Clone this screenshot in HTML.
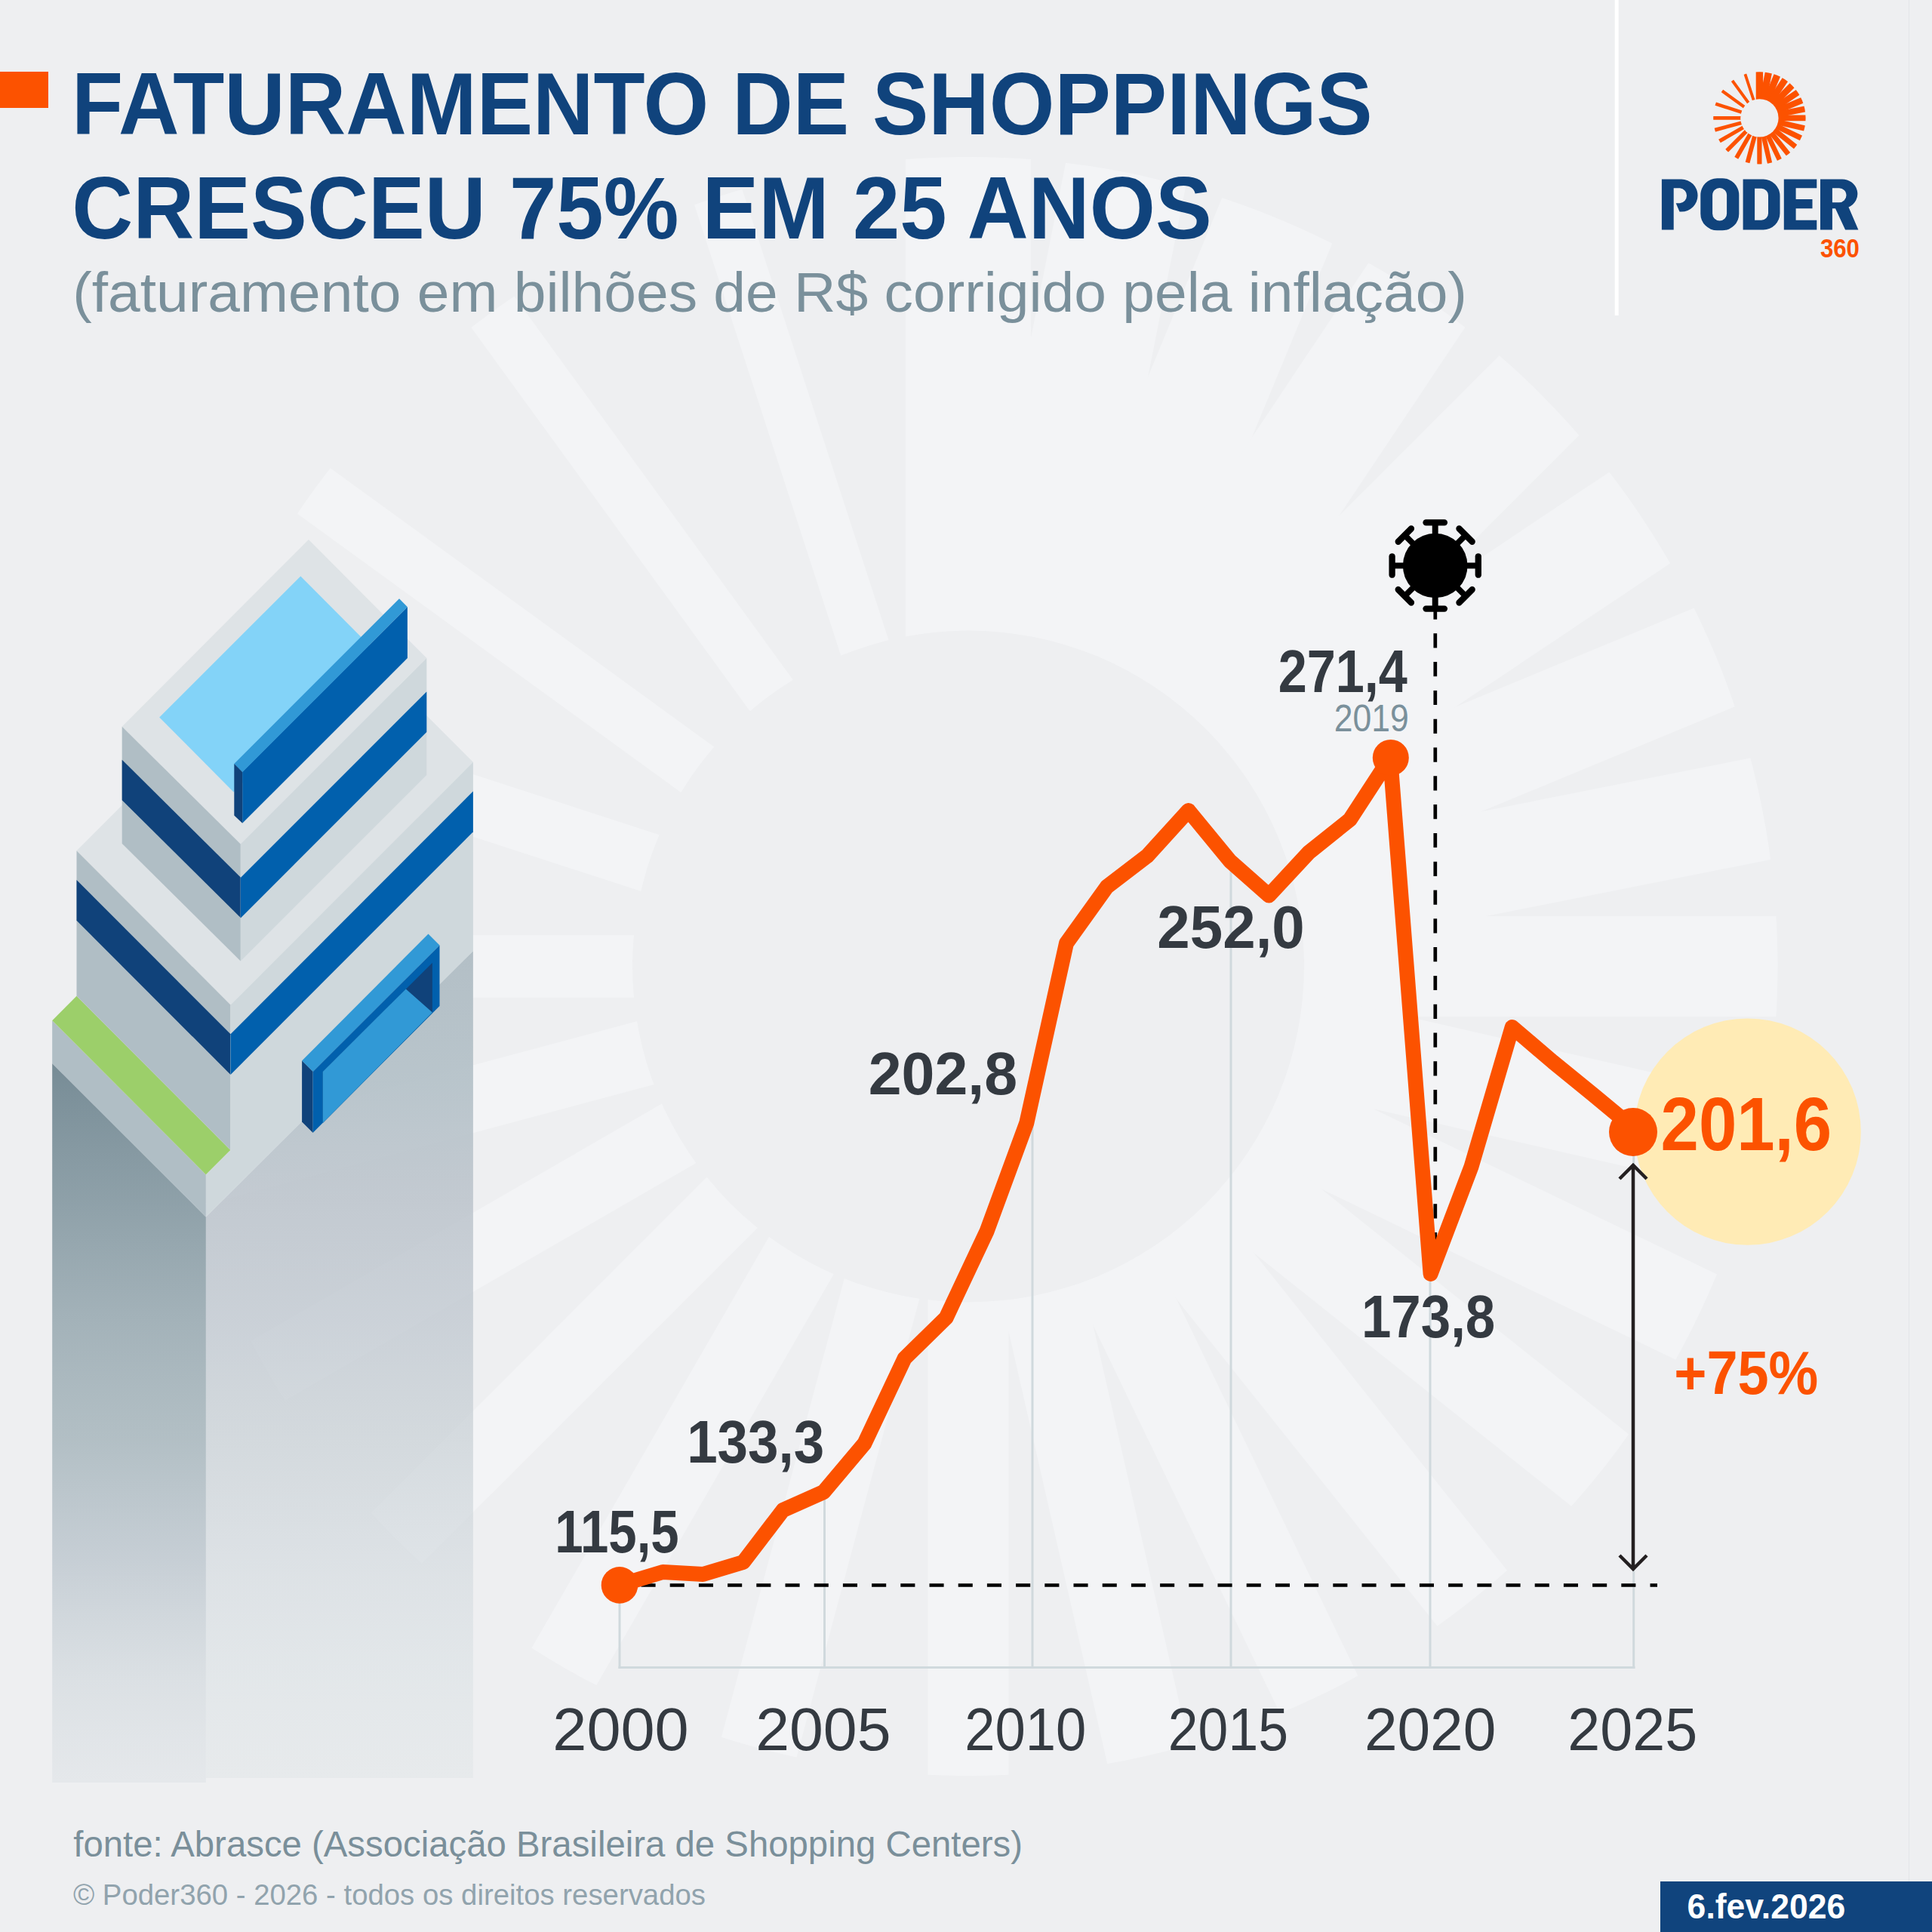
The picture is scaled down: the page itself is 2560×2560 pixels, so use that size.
<!DOCTYPE html><html><head><meta charset="utf-8"><title>Faturamento de shoppings</title><style>html,body{margin:0;padding:0;background:#eeeff1;width:2560px;height:2560px;overflow:hidden;font-family:"Liberation Sans",sans-serif}svg{display:block}</style></head><body><svg width="2560" height="2560" viewBox="0 0 2560 2560"><rect width="2560" height="2560" fill="#eeeff1"/>
<defs><mask id="mbg" maskUnits="userSpaceOnUse" x="200.5" y="198.0" width="2165.0" height="2165.0"><circle cx="1283" cy="1280.5" r="1072.5" fill="#fff"/><circle cx="1283" cy="1280.5" r="445" fill="#000"/></mask></defs>
<g mask="url(#mbg)"><polygon points="1366.1,1280.5 1366.1,154.4 1199.9,154.4 1199.9,1280.5" fill="#f3f4f6" /><polygon points="1362.5,1296.3 1582.2,191.8 1423.2,160.2 1203.5,1264.7" fill="#f3f4f6" /><polygon points="1356.0,1310.7 1786.9,270.3 1641.0,209.9 1210.0,1250.3" fill="#f3f4f6" /><polygon points="1346.9,1323.2 1972.6,386.9 1844.7,301.4 1219.1,1237.8" fill="#f3f4f6" /><polygon points="1335.9,1333.4 2132.2,537.1 2026.4,431.3 1230.1,1227.6" fill="#f3f4f6" /><polygon points="1323.4,1341.0 2259.7,715.3 2178.9,594.4 1242.6,1220.0" fill="#f3f4f6" /><polygon points="1310.0,1345.8 2350.4,914.8 2296.4,784.3 1256.0,1215.2" fill="#f3f4f6" /><polygon points="1296.4,1347.8 2400.9,1128.1 2374.1,993.5 1269.6,1213.2" fill="#f3f4f6" /><polygon points="1283.0,1347.0 2409.1,1347.0 2409.1,1214.0 1283.0,1214.0" fill="#f3f4f6" /><polygon points="1268.6,1343.5 2366.5,1594.1 2395.3,1468.1 1297.4,1217.5" fill="#f3f4f6" /><polygon points="1255.7,1337.1 2270.3,1825.7 2324.9,1712.5 1310.3,1223.9" fill="#f3f4f6" /><polygon points="1245.0,1328.2 2125.4,2030.3 2201.5,1935.0 1321.0,1232.8" fill="#f3f4f6" /><polygon points="1236.8,1317.4 1938.9,2197.8 2031.4,2124.1 1329.2,1243.6" fill="#f3f4f6" /><polygon points="1231.4,1305.4 1720.0,2320.0 1823.2,2270.2 1334.6,1255.6" fill="#f3f4f6" /><polygon points="1228.9,1292.8 1479.5,2390.7 1587.7,2366.0 1337.1,1268.2" fill="#f3f4f6" /><polygon points="1229.4,1280.5 1229.4,2406.6 1336.6,2406.6 1336.6,1280.5" fill="#f3f4f6" /><polygon points="1233.2,1267.2 941.7,2354.9 1041.3,2381.6 1332.8,1293.8" fill="#f3f4f6" /><polygon points="1240.1,1255.7 677.1,2231.0 762.8,2280.5 1325.9,1305.3" fill="#f3f4f6" /><polygon points="1249.4,1246.9 453.2,2043.2 520.3,2110.3 1316.6,1314.1" fill="#f3f4f6" /><polygon points="1260.3,1241.2 285.0,1804.2 330.4,1882.9 1305.7,1319.8" fill="#f3f4f6" /><polygon points="1271.8,1238.6 184.0,1530.1 206.5,1613.8 1294.2,1322.4" fill="#f3f4f6" /><polygon points="1283.0,1239.2 156.9,1239.2 156.9,1321.8 1283.0,1321.8" fill="#f3f4f6" /><polygon points="1295.1,1243.1 224.1,895.2 199.9,969.9 1270.9,1317.9" fill="#f3f4f6" /><polygon points="1304.9,1250.3 393.9,588.4 350.0,648.7 1261.1,1310.7" fill="#f3f4f6" /><polygon points="1311.5,1259.8 649.6,348.7 592.6,390.2 1254.5,1301.2" fill="#f3f4f6" /><polygon points="1314.6,1270.2 966.6,199.2 903.4,219.8 1251.4,1290.8" fill="#f3f4f6" /></g>
<rect x="2529" y="0" width="1" height="2493" fill="#e3e5e8"/>
<rect x="2139.7" y="0" width="5" height="418" fill="#ffffff"/>
<rect x="0" y="95" width="64" height="48" fill="#fc5200"/>
<g><polygon points="423.0,805.7 626.9,1009.8 305.5,1331.4 101.5,1127.3" fill="#dee3e6" />
<defs><linearGradient id="gl" x1="0" y1="1409" x2="0" y2="2362" gradientUnits="userSpaceOnUse"><stop offset="0.0" stop-color="#778c96" stop-opacity="1.0"/><stop offset="0.191" stop-color="#8498a1" stop-opacity="0.905"/><stop offset="0.358" stop-color="#93a5ad" stop-opacity="0.821"/><stop offset="0.524" stop-color="#9daeb5" stop-opacity="0.738"/><stop offset="0.689" stop-color="#b1bdc6" stop-opacity="0.655"/><stop offset="0.856" stop-color="#cdd5da" stop-opacity="0.572"/><stop offset="1.0" stop-color="#dce1e5" stop-opacity="0.5"/></linearGradient><linearGradient id="gr" x1="0" y1="1260" x2="0" y2="2356" gradientUnits="userSpaceOnUse"><stop offset="0.0" stop-color="#b3bfc6" stop-opacity="1.0"/><stop offset="0.158" stop-color="#b4c1c8" stop-opacity="0.921"/><stop offset="0.302" stop-color="#bbc3cb" stop-opacity="0.849"/><stop offset="0.447" stop-color="#c0c8d0" stop-opacity="0.776"/><stop offset="0.591" stop-color="#c8d0d5" stop-opacity="0.704"/><stop offset="0.735" stop-color="#d2d9de" stop-opacity="0.632"/><stop offset="0.88" stop-color="#dae1e4" stop-opacity="0.56"/><stop offset="1.0" stop-color="#e0e5e7" stop-opacity="0.5"/></linearGradient></defs>
<polygon points="69.2,1409.0 272.9,1612.4 272.9,2362.0 69.2,2362.0" fill="url(#gl)" />
<polygon points="272.9,1612.4 626.9,1259.9 626.9,2356.0 272.9,2356.0" fill="url(#gr)" />
<polygon points="69.2,1352.2 272.9,1556.5 272.9,1612.4 69.2,1409.0" fill="#b0bec5" />
<polygon points="69.2,1352.2 101.5,1319.8 305.5,1523.9 272.9,1556.5" fill="#9ccf6a" />
<polygon points="101.5,1127.3 305.5,1331.4 305.5,1523.9 101.5,1319.8" fill="#b0bec5" />
<polygon points="101.5,1166.1 305.5,1370.2 305.5,1423.9 101.5,1219.8" fill="#10427a" />
<polygon points="305.5,1331.4 626.9,1009.8 626.9,1259.9 272.9,1612.4 272.9,1556.5 305.5,1523.9" fill="#cfd8dc" />
<polygon points="305.5,1370.2 626.9,1048.6 626.9,1102.3 305.5,1423.9" fill="#0160ad" />
<polygon points="400.1,1405.4 567.5,1237.5 582.5,1252.5 414.6,1419.9" fill="#3199d6" />
<polygon points="400.1,1405.4 414.6,1419.9 414.6,1501.0 400.1,1486.5" fill="#10427a" />
<polygon points="414.6,1419.9 582.5,1252.5 582.5,1332.9 414.6,1501.0" fill="#0160ad" />
<polygon points="427.7,1419.9 572.9,1275.7 572.9,1341.6 427.7,1488.0" fill="#10427a" />
<polygon points="427.7,1419.9 537.8,1310.4 572.9,1341.6 427.7,1488.0" fill="#3199d6" />
<polygon points="408.9,714.9 565.3,872.0 318.8,1118.5 161.7,962.7" fill="#dee3e6" />
<polygon points="161.7,962.7 318.8,1118.5 318.8,1273.5 161.7,1117.7" fill="#b0bec5" />
<polygon points="161.7,1006.7 318.8,1162.5 318.8,1216.0 161.7,1060.2" fill="#10427a" />
<polygon points="318.8,1118.5 565.3,872.0 565.3,1027.0 318.8,1273.5" fill="#cfd8dc" />
<polygon points="318.8,1163.0 565.3,916.5 565.3,970.0 318.8,1216.5" fill="#0160ad" />
<polygon points="398.3,763.4 496.6,862.3 309.5,1049.4 211.2,950.5" fill="#83d3f8" />
<polygon points="310.3,1011.9 529.0,793.2 539.9,804.3 321.2,1023.0" fill="#3199d6" />
<polygon points="321.2,1023.0 539.9,804.3 539.9,872.1 321.2,1090.8" fill="#0160ad" />
<polygon points="310.3,1011.9 321.2,1023.0 321.2,1090.8 310.3,1080.4" fill="#10427a" /></g>
<g><circle cx="2315.6" cy="1499.6" r="150.2" fill="#ffebb5"/>
<rect x="819.5" y="2100" width="3" height="110.90000000000009" fill="#d0d9dd"/>
<rect x="1091.0" y="1977" width="3" height="233.9000000000001" fill="#d0d9dd"/>
<rect x="1366.5" y="1460" width="3" height="750.9000000000001" fill="#d0d9dd"/>
<rect x="1629.5" y="1141" width="3" height="1069.9" fill="#d0d9dd"/>
<rect x="1893.5" y="1688" width="3" height="522.9000000000001" fill="#d0d9dd"/>
<rect x="2163.2" y="1500" width="3" height="710.9000000000001" fill="#d0d9dd"/>
<rect x="819.5" y="2208" width="1347" height="3" fill="#d0d9dd"/>
<line x1="849.5" y1="2100.5" x2="2196" y2="2100.5" stroke="#000" stroke-width="4.7" stroke-dasharray="19.1 19.1"/>
<line x1="1901.8" y1="801.5" x2="1901.8" y2="1690" stroke="#000" stroke-width="4.7" stroke-dasharray="19.2 18.6"/>
<path d="M2164,1544 V2079 M2146,1562 L2164,1544 L2182,1562 M2146,2061 L2164,2079 L2182,2061" fill="none" stroke="#231f20" stroke-width="4.5"/>
<polyline points="821,2100.4 878.2,2083 931.5,2086 984.8,2070 1037.5,2001 1091.3,1977 1145.4,1912.8 1198.7,1799.8 1253.6,1746.2 1307.8,1630.9 1360.3,1488 1413,1249.9 1466.7,1175 1520.3,1134 1574.8,1074 1629.9,1141 1681.4,1186.5 1734.2,1129.6 1788.7,1086 1842.1,1004 1895.6,1688 1949.5,1546 2003.7,1361 2057.6,1407 2111,1450.5 2164,1494.5" fill="none" stroke="#fc5200" stroke-width="20" stroke-linejoin="round" stroke-linecap="round"/>
<circle cx="821" cy="2100.4" r="24.3" fill="#fc5200"/>
<circle cx="1842.8" cy="1004" r="24" fill="#fc5200"/>
<circle cx="2164" cy="1500" r="32" fill="#fc5200"/>
<circle cx="1901.7" cy="749.5" r="42.8" fill="#000"/><g transform="translate(1901.7,749.5) rotate(0)"><rect x="-3.95" y="-58" width="7.9" height="30" fill="#000"/><line x1="-12.2" y1="-57.1" x2="12.2" y2="-57.1" stroke="#000" stroke-width="8.3" stroke-linecap="round"/></g><g transform="translate(1901.7,749.5) rotate(45)"><rect x="-3.95" y="-58" width="7.9" height="30" fill="#000"/><line x1="-12.2" y1="-57.1" x2="12.2" y2="-57.1" stroke="#000" stroke-width="8.3" stroke-linecap="round"/></g><g transform="translate(1901.7,749.5) rotate(90)"><rect x="-3.95" y="-58" width="7.9" height="30" fill="#000"/><line x1="-12.2" y1="-57.1" x2="12.2" y2="-57.1" stroke="#000" stroke-width="8.3" stroke-linecap="round"/></g><g transform="translate(1901.7,749.5) rotate(135)"><rect x="-3.95" y="-58" width="7.9" height="30" fill="#000"/><line x1="-12.2" y1="-57.1" x2="12.2" y2="-57.1" stroke="#000" stroke-width="8.3" stroke-linecap="round"/></g><g transform="translate(1901.7,749.5) rotate(180)"><rect x="-3.95" y="-58" width="7.9" height="30" fill="#000"/><line x1="-12.2" y1="-57.1" x2="12.2" y2="-57.1" stroke="#000" stroke-width="8.3" stroke-linecap="round"/></g><g transform="translate(1901.7,749.5) rotate(225)"><rect x="-3.95" y="-58" width="7.9" height="30" fill="#000"/><line x1="-12.2" y1="-57.1" x2="12.2" y2="-57.1" stroke="#000" stroke-width="8.3" stroke-linecap="round"/></g><g transform="translate(1901.7,749.5) rotate(270)"><rect x="-3.95" y="-58" width="7.9" height="30" fill="#000"/><line x1="-12.2" y1="-57.1" x2="12.2" y2="-57.1" stroke="#000" stroke-width="8.3" stroke-linecap="round"/></g><g transform="translate(1901.7,749.5) rotate(315)"><rect x="-3.95" y="-58" width="7.9" height="30" fill="#000"/><line x1="-12.2" y1="-57.1" x2="12.2" y2="-57.1" stroke="#000" stroke-width="8.3" stroke-linecap="round"/></g></g>
<defs><mask id="mlogo" maskUnits="userSpaceOnUse" x="2260.2000000000003" y="85.2" width="142.4" height="142.4"><circle cx="2331.4" cy="156.4" r="61.2" fill="#fff"/><circle cx="2331.4" cy="156.4" r="25.2" fill="#000"/></mask></defs>
<g mask="url(#mlogo)"><polygon points="2336.1,156.4 2336.1,92.1 2326.7,92.1 2326.7,156.4" fill="#fc5200" /><polygon points="2335.9,157.3 2348.5,94.3 2339.4,92.5 2326.9,155.5" fill="#fc5200" /><polygon points="2335.6,158.1 2360.2,98.8 2351.8,95.3 2327.2,154.7" fill="#fc5200" /><polygon points="2335.0,158.8 2370.7,105.4 2363.5,100.5 2327.8,154.0" fill="#fc5200" /><polygon points="2334.4,159.4 2379.9,114.0 2373.8,107.9 2328.4,153.4" fill="#fc5200" /><polygon points="2333.7,159.9 2387.1,124.1 2382.5,117.2 2329.1,152.9" fill="#fc5200" /><polygon points="2332.9,160.1 2392.3,135.5 2389.2,128.1 2329.9,152.7" fill="#fc5200" /><polygon points="2332.2,160.2 2395.2,147.7 2393.7,140.0 2330.6,152.6" fill="#fc5200" /><polygon points="2331.4,160.2 2395.7,160.2 2395.7,152.6 2331.4,152.6" fill="#fc5200" /><polygon points="2330.6,160.0 2393.2,174.3 2394.9,167.1 2332.2,152.8" fill="#fc5200" /><polygon points="2329.8,159.6 2387.7,187.5 2390.9,181.1 2333.0,153.2" fill="#fc5200" /><polygon points="2329.2,159.1 2379.5,199.2 2383.8,193.7 2333.6,153.7" fill="#fc5200" /><polygon points="2328.8,158.5 2368.8,208.7 2374.1,204.5 2334.0,154.3" fill="#fc5200" /><polygon points="2328.5,157.8 2356.3,215.7 2362.2,212.9 2334.3,155.0" fill="#fc5200" /><polygon points="2328.3,157.1 2342.6,219.8 2348.8,218.3 2334.5,155.7" fill="#fc5200" /><polygon points="2328.3,156.4 2328.3,220.7 2334.5,220.7 2334.5,156.4" fill="#fc5200" /><polygon points="2328.6,155.6 2311.9,217.7 2317.6,219.2 2334.2,157.2" fill="#fc5200" /><polygon points="2329.0,155.0 2296.8,210.6 2301.7,213.5 2333.8,157.8" fill="#fc5200" /><polygon points="2329.5,154.5 2284.0,199.9 2287.9,203.8 2333.3,158.3" fill="#fc5200" /><polygon points="2330.1,154.2 2274.5,186.3 2277.0,190.8 2332.7,158.6" fill="#fc5200" /><polygon points="2330.8,154.0 2268.7,170.6 2270.0,175.4 2332.0,158.8" fill="#fc5200" /><polygon points="2331.4,154.0 2267.1,154.0 2267.1,158.8 2331.4,158.8" fill="#fc5200" /><polygon points="2332.1,154.3 2271.0,134.4 2269.6,138.7 2330.7,158.5" fill="#fc5200" /><polygon points="2332.7,154.7 2280.7,116.9 2278.2,120.3 2330.1,158.1" fill="#fc5200" /><polygon points="2333.0,155.2 2295.3,103.2 2292.0,105.6 2329.8,157.6" fill="#fc5200" /><polygon points="2333.2,155.8 2313.3,94.7 2309.7,95.9 2329.6,157.0" fill="#fc5200" /></g>
<path d="M2201.9,304.4 V237.5 H2228 A21.5,21.5 0 0 1 2228,280.6 H2225.5 L2220.7,269.2 H2226 A10,10 0 0 0 2226,249.3 H2217.7 V304.4 Z M2275.3,236.3 H2282.3 A22,22 0 0 1 2304.3,258.3 V283.3 A22,22 0 0 1 2282.3,305.3 H2275.3 A22,22 0 0 1 2253.3,283.3 V258.3 A22,22 0 0 1 2275.3,236.3 Z M2278.6,249 A9.5,9.5 0 0 0 2269.1,258.5 V283.1 A9.5,9.5 0 0 0 2278.6,292.6 A9.5,9.5 0 0 0 2288.1,283.1 V258.5 A9.5,9.5 0 0 0 2278.6,249 Z M2309.6,237.5 H2336.5 A22,22 0 0 1 2358.5,259.5 V282.4 A22,22 0 0 1 2336.5,304.4 H2309.6 Z M2325.1,249.8 V291.7 H2334 A9,9 0 0 0 2343,282.7 V258.8 A9,9 0 0 0 2334,249.8 Z M2363.8,237.5 H2407.3 V249.3 H2379.6 V263.9 H2401.5 V276.2 H2379.6 V291.7 H2407.3 V304.4 H2363.8 Z M2412,304.4 V237.5 H2440 A20.3,19.4 0 0 1 2449.5,274.5 L2462.4,304.4 H2445.1 L2432,276.2 H2427.9 V304.4 Z M2427.9,249.3 V268.3 H2437 A9.5,9.5 0 0 0 2437,249.3 Z" fill="#10437c" fill-rule="evenodd"/>
<g font-family="Liberation Sans"><text transform="translate(95.10,177.80) scale(0.9568,1)" font-size="116.5" font-weight="bold" fill="#10437c" >FATURAMENTO DE SHOPPINGS</text>
<text transform="translate(95.31,316.30) scale(0.9628,1)" font-size="116.5" font-weight="bold" fill="#10437c" >CRESCEU 75% EM 25 ANOS</text>
<text transform="translate(96.19,413.00) scale(1.0417,1)" font-size="73.7" font-weight="normal" fill="#7a909b" >(faturamento em bilhões de R$ corrigido pela inflação)</text>
<text transform="translate(735.27,2057.30) scale(0.8507,1)" font-size="79" font-weight="bold" fill="#343a41" >115,5</text>
<text transform="translate(910.13,1938.30) scale(0.9213,1)" font-size="79" font-weight="bold" fill="#343a41" >133,3</text>
<text transform="translate(1150.73,1449.70) scale(0.9987,1)" font-size="79" font-weight="bold" fill="#343a41" >202,8</text>
<text transform="translate(1533.36,1255.70) scale(0.9887,1)" font-size="79" font-weight="bold" fill="#343a41" >252,0</text>
<text transform="translate(1693.65,917.40) scale(0.8666,1)" font-size="79" font-weight="bold" fill="#343a41" >271,4</text>
<text transform="translate(1803.95,1771.50) scale(0.8971,1)" font-size="79" font-weight="bold" fill="#343a41" >173,8</text>
<text transform="translate(1767.67,968.90) scale(0.8911,1)" font-size="50" font-weight="normal" fill="#7a909b" >2019</text>
<text transform="translate(2200.59,1524.00) scale(0.9013,1)" font-size="100.4" font-weight="bold" fill="#fc5200" >201,6</text>
<text transform="translate(2218.24,1847.00) scale(0.9100,1)" font-size="81.2" font-weight="bold" fill="#fc5200" >+75%</text>
<text transform="translate(732.35,2319.30) scale(1.0135,1)" font-size="80" font-weight="normal" fill="#343a41" >2000</text>
<text transform="translate(1001.17,2319.30) scale(1.0082,1)" font-size="80" font-weight="normal" fill="#343a41" >2005</text>
<text transform="translate(1278.18,2319.30) scale(0.9061,1)" font-size="80" font-weight="normal" fill="#343a41" >2010</text>
<text transform="translate(1547.82,2319.30) scale(0.8944,1)" font-size="80" font-weight="normal" fill="#343a41" >2015</text>
<text transform="translate(1807.88,2319.30) scale(0.9800,1)" font-size="80" font-weight="normal" fill="#343a41" >2020</text>
<text transform="translate(2077.23,2319.30) scale(0.9665,1)" font-size="80" font-weight="normal" fill="#343a41" >2025</text>
<text transform="translate(97.23,2460.20) scale(0.9843,1)" font-size="48.1" font-weight="normal" fill="#7a8f9a" >fonte: Abrasce (Associação Brasileira de Shopping Centers)</text>
<text transform="translate(96.93,2524.30) scale(0.9988,1)" font-size="38.4" font-weight="normal" fill="#91a3ad" >© Poder360 - 2026 - todos os direitos reservados</text></g>
<rect x="2200" y="2493" width="360" height="67" fill="#10447d"/>
<g font-family="Liberation Sans"><text transform="translate(2235.62,2541.60) scale(0.9598,1)" font-size="46.4" font-weight="bold" fill="#ffffff" >6.fev.2026</text>
<text transform="translate(2411.88,341.40) scale(0.8710,1)" font-size="35.8" font-weight="bold" fill="#fc5200" >360</text></g></svg></body></html>
